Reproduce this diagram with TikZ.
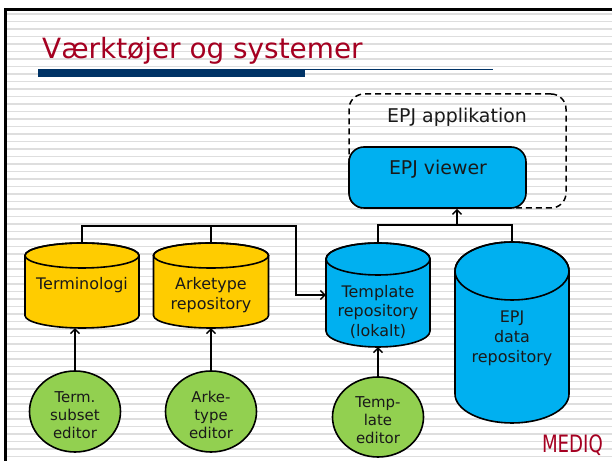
\documentclass[tikz,border=0pt]{standalone}
\usepackage{fontspec}
\setmainfont{DejaVu Sans}
\usetikzlibrary{arrows.meta,calc,shapes.geometric}
\definecolor{ttlred}{HTML}{A50021}
\definecolor{navyblue}{HTML}{003366}
\definecolor{cylyellow}{HTML}{FFCC00}
\definecolor{cylcyan}{HTML}{00B0F0}
\definecolor{edgreen}{HTML}{92D050}
\newcommand\dbcyl[7]{%
  \draw[cylline,fill=#7] (#2-#5,#3-#6) -- (#2-#5,#4+#6)
     arc[start angle=180,end angle=360,x radius=#5,y radius=#6]
     -- (#2+#5,#3-#6)
     arc[start angle=0,end angle=180,x radius=#5,y radius=#6] -- cycle;
  \draw[cylline] (#2,#3-#6) ellipse[x radius=#5,y radius=#6];
  \node[inner sep=0,minimum width={2*#5*1bp},minimum height={(#3-#4)*1bp}] (#1) at (#2,{(#3+#4)/2}) {};
}
\tikzset{
  stripe/.style={line width=1.6bp,draw=black!13},
  cylline/.style={line width=1.6bp,draw=black},
  conn/.style={line width=1.6bp,draw=black},
  arr/.style={conn,-{Straight Barb[length=4.5bp,width=9bp,line width=1.4bp]}},
  lbl/.style={align=center,inner sep=0,text=black!90,font=\fontsize{16}{20}\selectfont},
  edtxt/.style={align=center,inner sep=0,text=black!90,font=\fontsize{15}{18}\selectfont},
  editor/.style={draw=black,line width=1.6bp,fill=edgreen,ellipse,minimum width=91bp,minimum height=81bp,inner sep=0},
}
\begin{document}
\begin{tikzpicture}[x=1bp,y=1bp]
\useasboundingbox (0,0) rectangle (612,461);
\fill[white] (0,0) rectangle (612,461);
% stripes
\foreach \k in {0,...,59} \draw[stripe] (7,{447-7.5*\k}) -- (612,{447-7.5*\k});
% frame
\draw[line width=3bp] (5.5,0) -- (5.5,451.5) -- (612,451.5);
% title
\node[anchor=base west,inner sep=0,text=ttlred,font=\fontsize{28}{32}\selectfont] (title) at (42,402) {Værktøjer og systemer};
\fill[navyblue] (38,384) rectangle (305,392);
\draw[navyblue,line width=1.2bp] (305,391.4) -- (493,391.4);
% EPJ application
\node[draw=black,dash pattern=on 6bp off 4bp,line width=1.5bp,rounded corners=15bp,minimum width=217bp,minimum height=114bp,inner sep=0] (app) at (457.5,310) {};
\node[lbl,font=\fontsize{19}{22}\selectfont] (apptxt) at (457,344) {EPJ applikation};
\node[draw=black,line width=1.6bp,fill=cylcyan,rounded corners=15bp,minimum width=177bp,minimum height=61bp,inner sep=0] (view) at (437.5,283.5) {};
\node[lbl,font=\fontsize{19}{22}\selectfont] (viewtxt) at (438,292) {EPJ viewer};
% cylinders
\dbcyl{term}{82}{218}{133}{57}{12.5}{cylyellow}
\dbcyl{ark}{211}{218}{133}{57.5}{12.5}{cylyellow}
\dbcyl{tmpl}{378}{218}{114}{52}{16}{cylcyan}
\dbcyl{data}{512}{219}{38}{57}{29}{cylcyan}
\node[lbl] (termtxt) at (82,176) {Terminologi};
\node[lbl] (arktxt) at (211,165.5) {Arketype\\repository};
\node[lbl] (tmpltxt) at (378,149) {Template\\repository\\(lokalt)};
\node[lbl] (datatxt) at (512,123) {EPJ\\data\\repository};
% editors
\node[editor] (tse) at (75,49.5) {};
\node[edtxt] at (75,46) {Term.\\subset\\editor};
\node[editor] (ake) at (211,49.5) {};
\node[edtxt] at (211,46) {Arke-\\type\\editor};
\node[editor,minimum height=80bp] (tme) at (378,44) {};
\node[edtxt] at (378,41) {Temp-\\late\\editor};
% connectors
\draw[arr] (tse.north) -- (tse.north |- term.south);
\draw[arr] (ake.north) -- (ake.north |- ark.south);
\draw[arr] (tme.north) -- (tme.north |- tmpl.south);
\coordinate (bend) at (296,235);
\draw[arr] (term.north) |- (bend) |- (tmpl.west);
\draw[conn] (ark.north) -- (ark.north |- bend);
\coordinate (topbus) at (457,236);
\draw[conn] (tmpl.north) |- (topbus) -| (data.north);
\draw[arr] (topbus) -- (topbus |- view.south);
% logo
\node[anchor=base east,inner sep=0,text=ttlred,font=\fontsize{24}{26}\selectfont,xscale=0.76] (logo) at (603,8) {MEDIQ};
\end{tikzpicture}
\end{document}
